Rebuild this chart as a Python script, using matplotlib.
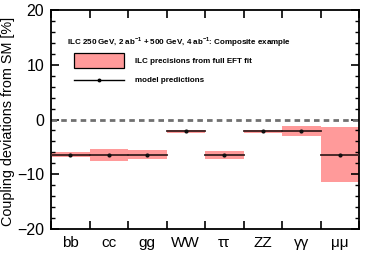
import matplotlib
matplotlib.use("Agg")
import matplotlib.pyplot as plt
import numpy as np

plt.rcParams["font.family"] = ["Liberation Sans", "DejaVu Sans"]
plt.rcParams["mathtext.fontset"] = "custom"
plt.rcParams["mathtext.rm"] = "Liberation Sans"
plt.rcParams["mathtext.bf"] = "Liberation Sans:bold"

# couplings and values
channels = ["bb", "cc", "gg", "WW", "ττ", "ZZ", "γγ", "μμ"]
model = [-6.4, -6.4, -6.4, -2.1, -6.4, -2.1, -2.1, -6.4]
band_hi = [-6.0, -5.3, -5.6, -1.9, -5.8, -1.9, -1.1, -1.4]
band_lo = [-6.9, -7.5, -7.3, -2.5, -7.2, -2.5, -3.1, -11.4]

pink = "#ff9a9a"

fig = plt.figure(figsize=(3.65, 2.57), dpi=100)
ax = fig.add_axes([51/365, 28/257, 308/365, 219/257])

n = len(channels)
for i in range(n):
    ax.fill_between([i, i + 1], band_lo[i], band_hi[i], color=pink, lw=0, zorder=1)
    ax.plot([i, i + 1], [model[i], model[i]], color="#3a2020", lw=1.3, zorder=3)
    ax.plot(i + 0.5, model[i], "o", color="#111111", ms=2, zorder=4)

ax.axhline(0, color="#707070", ls=(0, (2, 1.5)), lw=2, zorder=2)

ax.set_xlim(0, n)
ax.set_ylim(-20, 20)
ax.set_xticks(np.arange(n + 1))
ax.set_xticklabels([])
ax.set_xticks(np.arange(n) + 0.5, minor=True)
ax.set_xticklabels(channels, minor=True, fontsize=11)
ax.tick_params(axis="x", which="minor", length=0, pad=5)
ax.tick_params(axis="x", which="major", direction="in", length=6, width=1.2,
               top=True, bottom=True)
ax.set_yticks([-20, -10, 0, 10, 20])
ax.set_yticks(np.arange(-20, 21, 2), minor=True)
ax.tick_params(axis="y", which="major", direction="in", length=6, width=1.2,
               left=True, right=True, labelsize=11.5, pad=5)
ax.tick_params(axis="y", which="minor", direction="in", length=3, width=1,
               left=True, right=True)
for s in ax.spines.values():
    s.set_linewidth(1.3)
ax.set_ylabel("Coupling deviations from SM [%]", fontsize=10.4)
ax.yaxis.set_label_coords(-0.117, 0.49)

# legend drawn by hand in axes fraction coords
fs = 5.8
ax.text(0.052, 0.854, "ILC 250 GeV, 2 ab$^{\\mathbf{-1}}$ + 500 GeV, 4 ab$^{\\mathbf{-1}}$: Composite example",
        transform=ax.transAxes, fontsize=fs, fontweight="bold", va="center")
ax.add_patch(plt.Rectangle((0.075, 0.735), 0.162, 0.068, transform=ax.transAxes,
                           facecolor=pink, edgecolor="black", lw=0.9, zorder=5))
ax.text(0.273, 0.767, "ILC precisions from full EFT fit", transform=ax.transAxes,
        fontsize=fs, fontweight="bold", va="center")
ax.plot([0.075, 0.237], [0.68, 0.68], color="black", lw=1, transform=ax.transAxes)
ax.plot(0.156, 0.68, "o", color="black", ms=1.8, transform=ax.transAxes)
ax.text(0.273, 0.68, "model predictions", transform=ax.transAxes,
        fontsize=fs, fontweight="bold", va="center")

fig.savefig("out.png", dpi=100)
